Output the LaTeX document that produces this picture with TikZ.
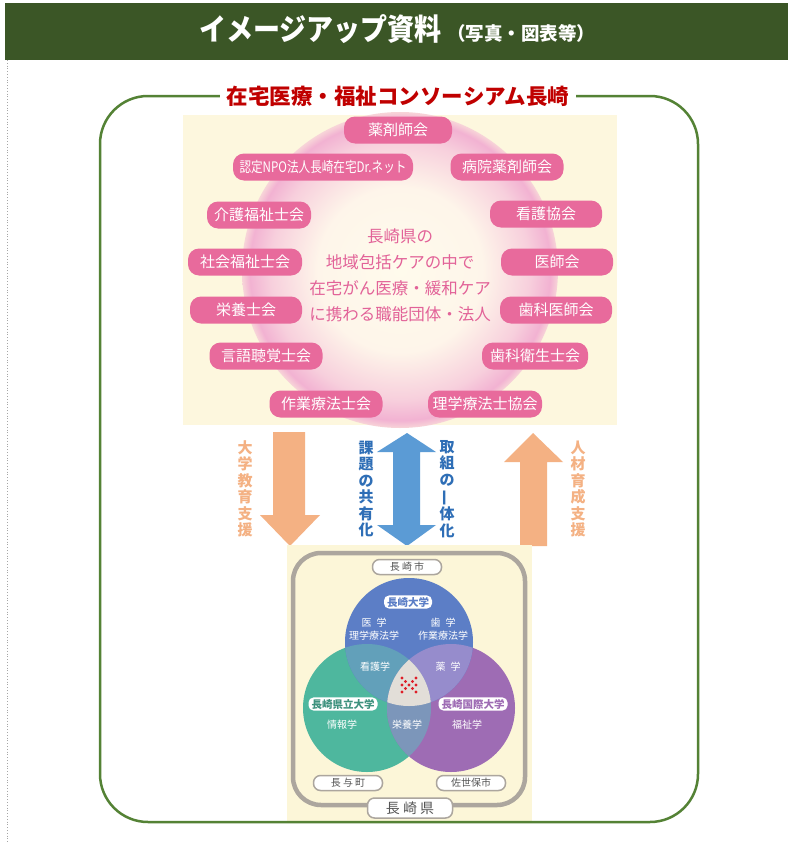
\documentclass[tikz,border=0pt]{standalone}
\usepackage{fontspec}
\usepackage{graphicx}
\setmainfont{Noto Sans CJK JP}
\usetikzlibrary{positioning,calc}
\definecolor{bannergreen}{RGB}{59,86,38}
\definecolor{framegreen}{RGB}{84,130,53}
\definecolor{titlered}{RGB}{192,0,0}
\definecolor{pillpink}{RGB}{232,106,156}
\definecolor{textpink}{RGB}{226,98,152}
\definecolor{panelcream}{RGB}{253,247,222}
\definecolor{glowpink}{RGB}{242,178,210}
\definecolor{glowwhite}{RGB}{255,251,236}
\colorlet{glowmidA}{glowpink!8!glowwhite}
\colorlet{glowmidB}{glowpink!60!glowwhite}
\colorlet{glowedge}{glowpink!50!panelcream}
\definecolor{arroworange}{RGB}{244,177,131}
\definecolor{arrowblue}{RGB}{91,155,213}
\definecolor{textblue}{RGB}{46,110,182}
\definecolor{venncream}{RGB}{252,246,216}
\definecolor{framegray}{RGB}{172,166,158}
\definecolor{placegray}{RGB}{85,85,85}
\definecolor{vblue}{RGB}{92,126,198}
\definecolor{vgreen}{RGB}{78,183,158}
\definecolor{vpurple}{RGB}{158,108,180}
\definecolor{vbluegreen}{RGB}{98,160,186}
\definecolor{vbluepurple}{RGB}{150,140,204}
\definecolor{vgreenpurple}{RGB}{124,150,186}
\definecolor{vcenter}{RGB}{226,222,216}
\definecolor{dotred}{RGB}{222,30,40}
\newcommand{\jpsize}[1]{\fontsize{#1}{#1}\selectfont}
\pgfdeclareradialshading{pinkglow}{\pgfpoint{0bp}{0bp}}{%
  color(0bp)=(glowwhite); color(13bp)=(glowmidA); color(20.5bp)=(glowmidB);
  color(23.8bp)=(glowpink); color(25bp)=(glowedge); color(50bp)=(glowedge)}

\begin{document}
\begin{tikzpicture}[
  x=1pt, y=-1pt,
  pill/.style={fill=pillpink, text=white, rounded corners=11pt, minimum height=27pt,
    inner sep=0pt, font=\jpsize{15}},
  vtext/.style={align=center, inner sep=0pt, font=\fontsize{15}{16.5}\selectfont\bfseries},
  school/.style={fill=white, rounded corners=5pt, inner xsep=3pt, inner ysep=1.5pt,
    font=\jpsize{10.5}\bfseries},
  place/.style={draw=framegray, line width=1.5pt, fill=white, rounded corners=7pt,
    minimum height=15pt, inner sep=0pt, text=placegray, font=\jpsize{10}},
  venntext/.style={text=white, align=center, inner sep=0pt, font=\fontsize{10}{13}\selectfont}
]
\useasboundingbox (0,0) rectangle (788,843);
\fill[white] (0,0) rectangle (788,843);
\draw[gray!70, dotted, line width=0.8pt] (7,60) -- (7,843);

% banner
\fill[bannergreen] (5,3) rectangle (788,60);
\node[anchor=base west, text=white, inner sep=0pt, font=\jpsize{30}\bfseries] (head) at (199,41)
  {\scalebox{0.9}[1]{イメージアップ資料}};
\node[text=white, inner sep=0pt, font=\jpsize{18.5}\bfseries,
  right=5pt of head.base east, anchor=base west] (headsub) {（写真・図表等）};

% upper panel
\fill[panelcream] (183,115) rectangle (617,425);
\shade[shading=pinkglow] (400,270) circle (158pt);
\node[align=center, text=textpink, inner sep=0pt, font=\fontsize{16.5}{26}\selectfont] (core)
  at (400,275) {長崎県の\\地域包括ケアの中で\\在宅がん医療・緩和ケア\\に携わる職能団体・法人};

\node[pill, minimum width=108pt] (yakuzai) at (398,130) {薬剤師会};
\node[pill, minimum width=180pt] (npo) at (323,167)
  {\scalebox{0.8}[1]{\jpsize{14.5}認定NPO法人長崎在宅Dr.ネット}};
\node[pill, minimum width=113pt] (byoin) at (507,167) {病院薬剤師会};
\node[pill, minimum width=104pt] (kaigo) at (259,215) {介護福祉士会};
\node[pill, minimum width=112pt] (kango) at (546,214) {看護協会};
\node[pill, minimum width=114pt] (shakai) at (245,262) {社会福祉士会};
\node[pill, minimum width=112pt] (ishi) at (557,262) {医師会};
\node[pill, minimum width=112pt] (eiyo) at (246,310) {栄養士会};
\node[pill, minimum width=112pt] (shika) at (556,310) {歯科医師会};
\node[pill, minimum width=113pt] (gengo) at (266,356) {言語聴覚士会};
\node[pill, minimum width=106pt] (eisei) at (535,356) {歯科衛生士会};
\node[pill, minimum width=113pt] (sagyo) at (326,404) {作業療法士会};
\node[pill, minimum width=114pt] (rigaku) at (485,404) {理学療法士協会};

% arrows between the panels
\fill[arroworange] (273,432) -- (305,432) -- (305,515) -- (320,515) -- (290,546)
  -- (260,515) -- (273,515) -- cycle;
\fill[arrowblue] (407,433) -- (436,452) -- (420,452) -- (420,525) -- (436,525)
  -- (407,546) -- (377,525) -- (393,525) -- (393,452) -- (377,452) -- cycle;
\fill[arroworange] (533,433) -- (563,462) -- (547,462) -- (547,546) -- (520,546)
  -- (520,462) -- (504,462) -- cycle;
\node[vtext, text=arroworange] (kyoiku) at (245,489) {大\\学\\教\\育\\支\\援};
\node[vtext, text=textblue] (kyoyu) at (366,489) {課\\題\\の\\共\\有\\化};
\node[vtext, text=textblue] (ittai) at (447,489)
  {取\\組\\の\\\rotatebox[origin=c]{90}{一}\\体\\化};
\node[vtext, text=arroworange] (ikusei) at (578,489) {人\\材\\育\\成\\支\\援};

% lower panel
\fill[venncream] (287,545) rectangle (532,823);
\draw[framegray, line width=4.5pt, rounded corners=28pt] (293,553) rectangle (525,805);
\coordinate (bc) at (409,642);
\coordinate (gc) at (367,708);
\coordinate (pc) at (451,708);
\fill[vgreen] (gc) circle (64pt);
\fill[vpurple] (pc) circle (64pt);
\fill[vblue] (bc) circle (64pt);
\begin{scope}
  \clip (bc) circle (64pt);
  \fill[vbluegreen] (gc) circle (64pt);
  \fill[vbluepurple] (pc) circle (64pt);
\end{scope}
\begin{scope}
  \clip (gc) circle (64pt);
  \fill[vgreenpurple] (pc) circle (64pt);
  \clip (pc) circle (64pt);
  \fill[vcenter] (bc) circle (64pt);
\end{scope}
\foreach \dx/\dy in {-7/-7,7/-7,-3.5/-3.5,3.5/-3.5,-7/0,0/0,7/0,-3.5/3.5,3.5/3.5,-7/7,7/7}
  \fill[dotred] ($(409,685)+(\dx,\dy)$) circle (1.7pt);

\node[place, minimum width=69pt] (nagasakishi) at (407,567) {長 崎 市};
\node[place, minimum width=69pt] (nagayo) at (348,783) {長 与 町};
\node[place, minimum width=69pt] (sasebo) at (471,783) {佐世保市};
\node[place, minimum width=85pt, minimum height=20pt, font=\jpsize{14}] (ken) at (410,808)
  {長 崎 県};

\node[school, text=vblue] (nagadai) at (408,602) {長崎大学};
\node[school, text=vgreen!80!black] (kendai) at (343,704) {長崎県立大学};
\node[school, text=vpurple] (kokusai) at (473,704) {長崎国際大学};
\node[venntext] (igaku) at (374,629) {医\enspace 学\\理学療法学};
\node[venntext] (shigaku) at (443,629) {歯\enspace 学\\作業療法学};
\node[venntext] (kangogaku) at (375,667) {看護学};
\node[venntext] (yakugaku) at (448,667) {薬\enspace 学};
\node[venntext] (joho) at (342,725) {情報学};
\node[venntext] (eiyogaku) at (407,725) {栄養学};
\node[venntext] (fukushi) at (467,725) {福祉学};

% outer frame and its title
\draw[framegreen, line width=2.5pt, rounded corners=48pt] (100,96) rectangle (698,822);
\node[fill=white, text=titlered, inner xsep=7pt, inner ysep=2pt, font=\jpsize{21.5}\bfseries]
  (title) at (398,96) {在宅医療・福祉コンソーシアム長崎};
\end{tikzpicture}
\end{document}
